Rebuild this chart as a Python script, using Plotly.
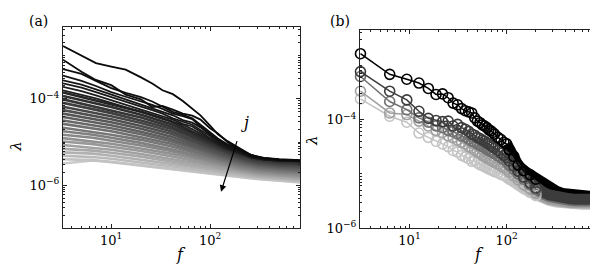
import plotly.graph_objects as go

# ---------------- data (log10 of lambda) ----------------
# panel (a): knots in f for the distinct dark curves
f_top = [3.25, 5, 7, 10, 14, 20, 26, 33, 42, 53, 66, 80, 100, 120, 150, 200, 260, 350, 500, 820]
line_A = [-2.77, -2.99, -3.17, -3.25, -3.32, -3.50, -3.64, -3.80, -3.89, -4.05, -4.22, -4.38, -4.62, -4.82, -4.98, -5.14, -5.30, -5.37, -5.40, -5.42]
line_B = [-3.09, -3.37, -3.56, -3.68, -3.90, -4.01, -4.19, -4.16, -4.25, -4.34, -4.39, -4.48, -4.68, -4.80, -5.00, -5.18, -5.30, -5.38, -5.41, -5.43]
line_C = [-3.31, -3.42, -3.58, -3.75, -3.86, -3.96, -4.06, -4.18, -4.30, -4.37, -4.45, -4.60, -4.78, -4.92, -5.05, -5.20, -5.32, -5.38, -5.41, -5.43]
line_D = [-3.46, -3.58, -3.70, -3.84, -3.95, -4.05, -4.14, -4.23, -4.34, -4.40, -4.47, -4.64, -4.80, -4.95, -5.08, -5.22, -5.33, -5.39, -5.42, -5.44]
line_E = [-3.57, -3.67, -3.78, -3.90, -4.02, -4.13, -4.21, -4.30, -4.38, -4.49, -4.55, -4.66, -4.83, -4.97, -5.10, -5.23, -5.34, -5.40, -5.43, -5.44]
line_F = [-3.64, -3.74, -3.84, -3.96, -4.07, -4.18, -4.26, -4.34, -4.45, -4.52, -4.60, -4.72, -4.86, -5.00, -5.12, -5.24, -5.35, -5.40, -5.43, -5.45]
line_G = [-3.72, -3.82, -3.92, -4.03, -4.13, -4.24, -4.32, -4.40, -4.48, -4.58, -4.64, -4.76, -4.90, -5.03, -5.14, -5.25, -5.35, -5.41, -5.43, -5.45]
line_H = [-3.80, -3.90, -3.99, -4.09, -4.19, -4.29, -4.37, -4.45, -4.53, -4.60, -4.70, -4.80, -4.93, -5.05, -5.16, -5.26, -5.36, -5.41, -5.44, -5.45]

# panel (a): knots in f for the dense grey band
f_band = [3.25, 6.5, 10, 20, 40, 80, 130, 200, 300, 500, 820]
band_00 = [-3.85, -4.02, -4.12, -4.30, -4.52, -4.85, -5.08, -5.25, -5.36, -5.42, -5.44]
band_01 = [-3.93, -4.09, -4.19, -4.37, -4.58, -4.89, -5.12, -5.28, -5.39, -5.44, -5.47]
band_02 = [-4.01, -4.17, -4.26, -4.43, -4.64, -4.94, -5.15, -5.31, -5.41, -5.47, -5.49]
band_03 = [-4.09, -4.24, -4.33, -4.50, -4.69, -4.98, -5.19, -5.34, -5.44, -5.49, -5.52]
band_04 = [-4.18, -4.31, -4.40, -4.56, -4.75, -5.03, -5.22, -5.37, -5.46, -5.52, -5.54]
band_05 = [-4.26, -4.39, -4.47, -4.63, -4.81, -5.07, -5.26, -5.39, -5.49, -5.54, -5.57]
band_06 = [-4.34, -4.46, -4.54, -4.69, -4.87, -5.12, -5.29, -5.42, -5.51, -5.57, -5.59]
band_07 = [-4.42, -4.54, -4.61, -4.76, -4.93, -5.16, -5.33, -5.45, -5.54, -5.59, -5.62]
band_08 = [-4.50, -4.61, -4.68, -4.82, -4.98, -5.20, -5.36, -5.48, -5.57, -5.62, -5.65]
band_09 = [-4.58, -4.68, -4.75, -4.89, -5.04, -5.25, -5.40, -5.51, -5.59, -5.64, -5.67]
band_10 = [-4.67, -4.76, -4.83, -4.95, -5.10, -5.29, -5.43, -5.54, -5.62, -5.67, -5.70]
band_11 = [-4.75, -4.83, -4.90, -5.02, -5.16, -5.34, -5.47, -5.57, -5.64, -5.69, -5.72]
band_12 = [-4.83, -4.90, -4.97, -5.08, -5.21, -5.38, -5.50, -5.60, -5.67, -5.72, -5.75]
band_13 = [-4.91, -4.98, -5.04, -5.15, -5.27, -5.42, -5.54, -5.63, -5.70, -5.74, -5.78]
band_14 = [-4.99, -5.05, -5.11, -5.21, -5.33, -5.47, -5.57, -5.65, -5.72, -5.77, -5.80]
band_15 = [-5.07, -5.13, -5.18, -5.28, -5.39, -5.51, -5.61, -5.68, -5.75, -5.79, -5.83]
band_16 = [-5.16, -5.20, -5.25, -5.34, -5.45, -5.56, -5.64, -5.71, -5.77, -5.82, -5.85]
band_17 = [-5.24, -5.27, -5.32, -5.41, -5.50, -5.60, -5.68, -5.74, -5.80, -5.84, -5.88]
band_18 = [-5.32, -5.35, -5.39, -5.48, -5.56, -5.65, -5.71, -5.77, -5.82, -5.86, -5.90]
band_19 = [-5.40, -5.42, -5.46, -5.54, -5.62, -5.69, -5.75, -5.80, -5.85, -5.89, -5.93]
band_20 = [-5.50, -5.43, -5.47, -5.55, -5.63, -5.70, -5.76, -5.81, -5.86, -5.90, -5.94]

# panel (b): frequency bins and five series
f_b = [3.125, 6.25, 9.375, 12.5, 15.625, 18.75, 21.875, 25, 28.125, 31.25, 34.375, 37.5,
       40.625, 43.75, 46.875, 50, 53.125, 56.25, 59.375, 62.5, 65.625, 68.75, 71.875, 75,
       81.25, 87.5, 93.75, 100, 106.25, 118.75, 131.25, 150, 175, 200, 237.5, 275, 325,
       375, 450, 525, 600, 700, 800]
ser_1 = [-2.79, -3.17, -3.26, -3.33, -3.43, -3.54, -3.53, -3.60, -3.70, -3.73, -3.80, -3.84,
         -3.86, -3.88, -3.97, -4.03, -4.06, -4.10, -4.12, -4.15, -4.19, -4.21, -4.24, -4.27,
         -4.33, -4.37, -4.42, -4.45, -4.56, -4.68, -4.84, -4.94, -5.02, -5.10, -5.20, -5.27,
         -5.32, -5.36, -5.38, -5.40, -5.41, -5.41, -5.42]
ser_2 = [-3.12, -3.48, -3.64, -3.85, -3.98, -4.02, -4.04, -4.03, -4.12, -4.09, -4.15, -4.18,
         -4.22, -4.27, -4.29, -4.33, -4.35, -4.38, -4.40, -4.43, -4.45, -4.48, -4.50, -4.53,
         -4.57, -4.62, -4.66, -4.70, -4.76, -4.86, -4.95, -5.06, -5.17, -5.26, -5.34, -5.39,
         -5.43, -5.45, -5.46, -5.47, -5.47, -5.47, -5.47]
ser_3 = [-3.21, -3.67, -3.82, -3.97, -4.05, -4.12, -4.15, -4.20, -4.22, -4.26, -4.30, -4.32,
         -4.36, -4.40, -4.42, -4.45, -4.48, -4.50, -4.52, -4.55, -4.57, -4.59, -4.61, -4.63,
         -4.67, -4.71, -4.74, -4.78, -4.84, -4.92, -5.00, -5.10, -5.20, -5.29, -5.37, -5.42,
         -5.46, -5.48, -5.49, -5.50, -5.50, -5.50, -5.50]
ser_4 = [-3.48, -3.88, -3.91, -4.03, -4.12, -4.20, -4.24, -4.30, -4.33, -4.38, -4.42, -4.45,
         -4.50, -4.53, -4.56, -4.60, -4.62, -4.66, -4.68, -4.71, -4.73, -4.75, -4.77, -4.79,
         -4.82, -4.86, -4.89, -4.92, -4.97, -5.04, -5.11, -5.20, -5.28, -5.36, -5.42, -5.47,
         -5.50, -5.52, -5.53, -5.53, -5.54, -5.54, -5.54]
ser_5 = [-3.62, -3.94, -4.05, -4.25, -4.33, -4.40, -4.45, -4.50, -4.57, -4.60, -4.66, -4.69,
         -4.72, -4.77, -4.76, -4.80, -4.83, -4.85, -4.87, -4.89, -4.91, -4.93, -4.94, -4.96,
         -4.98, -5.01, -5.03, -5.06, -5.10, -5.15, -5.20, -5.27, -5.34, -5.40, -5.45, -5.49,
         -5.52, -5.54, -5.55, -5.55, -5.56, -5.56, -5.56]

x_ticks = [10, 100]
x_ticktext = ["10<sup>1</sup>", "10<sup>2</sup>"]
y_ticks = [1e-6, 1e-4]
y_ticktext = ["10<sup>\u22126</sup>", "10<sup>\u22124</sup>"]

# ---------------- figure ----------------
W, H = 598, 266
FONT = "DejaVu Serif"
fig = go.Figure()

def grey(t):
    v = int(round(t))
    return f"rgb({v},{v},{v})"

band_rows = [band_00, band_01, band_02, band_03, band_04, band_05, band_06, band_07,
             band_08, band_09, band_10, band_11, band_12, band_13, band_14, band_15,
             band_16, band_17, band_18, band_19, band_20]
top_rows = [line_A, line_B, line_C, line_D, line_E, line_F, line_G, line_H]

nb = len(band_rows)
for i in reversed(range(nb)):
    c = grey(38 + (202 - 38) * i / (nb - 1))
    fig.add_trace(go.Scatter(x=f_band, y=[10 ** v for v in band_rows[i]], mode="lines",
                             line=dict(color=c, width=2.6), xaxis="x", yaxis="y",
                             showlegend=False, hoverinfo="skip"))
for i in reversed(range(len(top_rows))):
    c = grey(10 + 3 * i)
    fig.add_trace(go.Scatter(x=f_top, y=[10 ** v for v in top_rows[i]], mode="lines",
                             line=dict(color=c, width=1.8), xaxis="x", yaxis="y",
                             showlegend=False, hoverinfo="skip"))

# panel (b)
series = [ser_1, ser_2, ser_3, ser_4, ser_5]
colors_b = ["#000000", "#3c3c3c", "#707070", "#a0a0a0", "#c4c4c4"]
i_band = f_b.index(100)
i_mark = f_b.index(200)
for k in [4, 3, 2, 0, 1]:
    fig.add_trace(go.Scatter(x=f_b[i_band:], y=[10 ** v for v in series[k][i_band:]],
                             mode="lines", line=dict(color=colors_b[k], width=11),
                             xaxis="x2", yaxis="y2", showlegend=False, hoverinfo="skip",
                             cliponaxis=False))
for k in [4, 3, 2, 1, 0]:
    fig.add_trace(go.Scatter(x=f_b[:i_mark + 1], y=[10 ** v for v in series[k][:i_mark + 1]],
                             mode="lines+markers", line=dict(color=colors_b[k], width=1.5),
                             marker=dict(symbol="circle-open", size=10, color=colors_b[k],
                                         line=dict(width=1.6, color=colors_b[k])),
                             xaxis="x2", yaxis="y2", showlegend=False, hoverinfo="skip",
                             cliponaxis=False))

minor_x = [d * 10 ** e for e in range(0, 3) for d in range(2, 10)]
minor_y = [d * 10 ** e for e in range(-8, -2) for d in range(1, 10)
           if not (d == 1 and e in (-6, -4))]

def ax_style(**kw):
    d = dict(type="log", showgrid=False, zeroline=False, showline=True,
             linecolor="#222", linewidth=1, mirror="allticks", ticks="inside",
             ticklen=4, tickwidth=1, tickcolor="#222",
             tickfont=dict(family=FONT, size=13, color="black"))
    d.update(kw)
    return d

fig.update_layout(
    width=W, height=H, margin=dict(l=0, r=0, t=0, b=0),
    paper_bgcolor="white", plot_bgcolor="white",
    xaxis=ax_style(domain=[55 / W, 292 / W], range=[0.512, 2.91], anchor="y",
                   tickvals=x_ticks, ticktext=x_ticktext,
                   minor=dict(ticks="inside", ticklen=2, tickcolor="#222", tickvals=minor_x)),
    yaxis=ax_style(domain=[1 - 227 / H, 1 - 20 / H], range=[-7.0, -2.34], anchor="x",
                   tickvals=y_ticks, ticktext=y_ticktext,
                   minor=dict(ticks="inside", ticklen=2, tickcolor="#222", tickvals=minor_y)),
    xaxis2=ax_style(domain=[352 / W, 587 / W], range=[0.49, 2.91], anchor="y2",
                    tickvals=x_ticks, ticktext=x_ticktext,
                    minor=dict(ticks="inside", ticklen=2, tickcolor="#222", tickvals=minor_x)),
    yaxis2=ax_style(domain=[1 - 227 / H, 1 - 23 / H], range=[-6.0, -2.36], anchor="x2",
                    tickvals=y_ticks, ticktext=y_ticktext,
                    minor=dict(ticks="inside", ticklen=2, tickcolor="#222", tickvals=minor_y)),
    font=dict(family=FONT, size=14, color="black"),
)

ann = []
def label(x, y, text, size=15, angle=0):
    ann.append(dict(x=x, y=y, xref="paper", yref="paper", text=text, showarrow=False,
                    textangle=angle, font=dict(family=FONT, size=size, color="black"),
                    xanchor="center", yanchor="middle"))

label(30 / W, 1 - 13 / H, "(a)", 14)
label(332 / W, 1 - 13 / H, "(b)", 14)
label(173 / W, 1 - 254 / H, "<i>f</i>", 16)
label(471 / W, 1 - 254 / H, "<i>f</i>", 16)
label(8 / W, 1 - 143 / H, "<i>λ</i>", 15, -90)
label(304 / W, 1 - 137 / H, "<i>λ</i>", 15, -90)

# arrow in (a)
ann.append(dict(x=2.111, y=-6.157, ax=2.303, ay=-4.76, xref="x", yref="y",
                axref="x", ayref="y", showarrow=True, arrowhead=2, arrowsize=1.1,
                arrowwidth=1.2, arrowcolor="black", text=" "))
ann.append(dict(x=2.355, y=-4.55, xref="x", yref="y", text="<i>j</i>", showarrow=False,
                font=dict(family=FONT, size=16, color="black")))
fig.update_layout(annotations=ann)

fig.write_html("out.html")
